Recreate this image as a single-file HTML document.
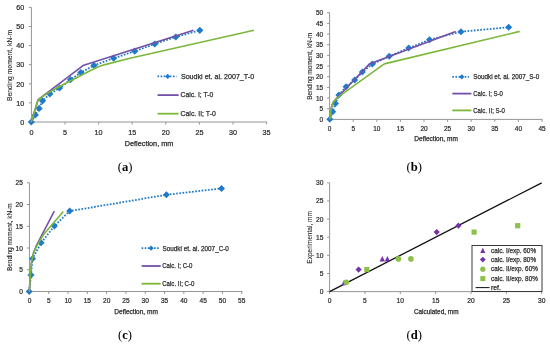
<!DOCTYPE html>
<html><head><meta charset="utf-8"><style>
html,body{margin:0;padding:0;background:#fff;}
svg{display:block;filter:blur(0.3px);}
text{stroke:#2a2a2a;stroke-width:0.25px;}
text.pl{stroke:none;}
text.yt{stroke-width:0.1px;}
text.tk{stroke-width:0.22px;fill:#2a2a2a;stroke:#2a2a2a;}
</style></head><body>
<svg width="550" height="346" viewBox="0 0 550 346">
<rect width="550" height="346" fill="#fff"/>
<path d="M31.4 7.4V122.0H266.8" fill="none" stroke="#959595" stroke-width="1"/>
<path d="M31.40 122.0v2.5" stroke="#959595" stroke-width="1"/>
<text x="31.40" y="134.5" font-size="7.6" text-anchor="middle" fill="#2a2a2a" font-family="Liberation Sans" font-weight="normal" textLength="4.0" lengthAdjust="spacingAndGlyphs" class="tk">0</text>
<path d="M65.00 122.0v2.5" stroke="#959595" stroke-width="1"/>
<text x="65.00" y="134.5" font-size="7.6" text-anchor="middle" fill="#2a2a2a" font-family="Liberation Sans" font-weight="normal" textLength="4.0" lengthAdjust="spacingAndGlyphs" class="tk">5</text>
<path d="M98.60 122.0v2.5" stroke="#959595" stroke-width="1"/>
<text x="98.60" y="134.5" font-size="7.6" text-anchor="middle" fill="#2a2a2a" font-family="Liberation Sans" font-weight="normal" textLength="8.0" lengthAdjust="spacingAndGlyphs" class="tk">10</text>
<path d="M132.20 122.0v2.5" stroke="#959595" stroke-width="1"/>
<text x="132.20" y="134.5" font-size="7.6" text-anchor="middle" fill="#2a2a2a" font-family="Liberation Sans" font-weight="normal" textLength="8.0" lengthAdjust="spacingAndGlyphs" class="tk">15</text>
<path d="M165.80 122.0v2.5" stroke="#959595" stroke-width="1"/>
<text x="165.80" y="134.5" font-size="7.6" text-anchor="middle" fill="#2a2a2a" font-family="Liberation Sans" font-weight="normal" textLength="8.0" lengthAdjust="spacingAndGlyphs" class="tk">20</text>
<path d="M199.40 122.0v2.5" stroke="#959595" stroke-width="1"/>
<text x="199.40" y="134.5" font-size="7.6" text-anchor="middle" fill="#2a2a2a" font-family="Liberation Sans" font-weight="normal" textLength="8.0" lengthAdjust="spacingAndGlyphs" class="tk">25</text>
<path d="M233.00 122.0v2.5" stroke="#959595" stroke-width="1"/>
<text x="233.00" y="134.5" font-size="7.6" text-anchor="middle" fill="#2a2a2a" font-family="Liberation Sans" font-weight="normal" textLength="8.0" lengthAdjust="spacingAndGlyphs" class="tk">30</text>
<path d="M266.60 122.0v2.5" stroke="#959595" stroke-width="1"/>
<text x="266.60" y="134.5" font-size="7.6" text-anchor="middle" fill="#2a2a2a" font-family="Liberation Sans" font-weight="normal" textLength="8.0" lengthAdjust="spacingAndGlyphs" class="tk">35</text>
<path d="M28.9 122.00H31.4" stroke="#959595" stroke-width="1"/>
<text x="24.2" y="124.70" font-size="7.6" text-anchor="end" fill="#2a2a2a" font-family="Liberation Sans" font-weight="normal" textLength="4.0" lengthAdjust="spacingAndGlyphs" class="tk">0</text>
<path d="M28.9 102.90H31.4" stroke="#959595" stroke-width="1"/>
<text x="24.2" y="105.60" font-size="7.6" text-anchor="end" fill="#2a2a2a" font-family="Liberation Sans" font-weight="normal" textLength="8.0" lengthAdjust="spacingAndGlyphs" class="tk">10</text>
<path d="M28.9 83.80H31.4" stroke="#959595" stroke-width="1"/>
<text x="24.2" y="86.50" font-size="7.6" text-anchor="end" fill="#2a2a2a" font-family="Liberation Sans" font-weight="normal" textLength="8.0" lengthAdjust="spacingAndGlyphs" class="tk">20</text>
<path d="M28.9 64.70H31.4" stroke="#959595" stroke-width="1"/>
<text x="24.2" y="67.40" font-size="7.6" text-anchor="end" fill="#2a2a2a" font-family="Liberation Sans" font-weight="normal" textLength="8.0" lengthAdjust="spacingAndGlyphs" class="tk">30</text>
<path d="M28.9 45.60H31.4" stroke="#959595" stroke-width="1"/>
<text x="24.2" y="48.30" font-size="7.6" text-anchor="end" fill="#2a2a2a" font-family="Liberation Sans" font-weight="normal" textLength="8.0" lengthAdjust="spacingAndGlyphs" class="tk">40</text>
<path d="M28.9 26.50H31.4" stroke="#959595" stroke-width="1"/>
<text x="24.2" y="29.20" font-size="7.6" text-anchor="end" fill="#2a2a2a" font-family="Liberation Sans" font-weight="normal" textLength="8.0" lengthAdjust="spacingAndGlyphs" class="tk">50</text>
<path d="M28.9 7.40H31.4" stroke="#959595" stroke-width="1"/>
<text x="24.2" y="10.10" font-size="7.6" text-anchor="end" fill="#2a2a2a" font-family="Liberation Sans" font-weight="normal" textLength="8.0" lengthAdjust="spacingAndGlyphs" class="tk">60</text>
<polyline points="31.30,122.00 35.30,115.00 39.10,108.40 42.50,100.80 49.80,93.90 59.50,88.00 70.50,79.70 80.80,72.60 94.00,65.40 113.60,58.20 134.70,51.20 154.80,44.00 175.80,37.00 199.80,30.30" fill="none" stroke="#1f7acb" stroke-width="1.8" stroke-linejoin="round" stroke-linecap="butt" stroke-dasharray="1.7 1.5"/>
<path d="M31.30 118.40L34.90 122.00L31.30 125.60L27.70 122.00Z" fill="#1f7acb"/>
<path d="M35.30 111.40L38.90 115.00L35.30 118.60L31.70 115.00Z" fill="#1f7acb"/>
<path d="M39.10 104.80L42.70 108.40L39.10 112.00L35.50 108.40Z" fill="#1f7acb"/>
<path d="M42.50 97.20L46.10 100.80L42.50 104.40L38.90 100.80Z" fill="#1f7acb"/>
<path d="M49.80 90.30L53.40 93.90L49.80 97.50L46.20 93.90Z" fill="#1f7acb"/>
<path d="M59.50 84.40L63.10 88.00L59.50 91.60L55.90 88.00Z" fill="#1f7acb"/>
<path d="M70.50 76.10L74.10 79.70L70.50 83.30L66.90 79.70Z" fill="#1f7acb"/>
<path d="M80.80 69.00L84.40 72.60L80.80 76.20L77.20 72.60Z" fill="#1f7acb"/>
<path d="M94.00 61.80L97.60 65.40L94.00 69.00L90.40 65.40Z" fill="#1f7acb"/>
<path d="M113.60 54.60L117.20 58.20L113.60 61.80L110.00 58.20Z" fill="#1f7acb"/>
<path d="M134.70 47.60L138.30 51.20L134.70 54.80L131.10 51.20Z" fill="#1f7acb"/>
<path d="M154.80 40.40L158.40 44.00L154.80 47.60L151.20 44.00Z" fill="#1f7acb"/>
<path d="M175.80 33.40L179.40 37.00L175.80 40.60L172.20 37.00Z" fill="#1f7acb"/>
<path d="M199.80 26.70L203.40 30.30L199.80 33.90L196.20 30.30Z" fill="#1f7acb"/>
<polyline points="31.30,122.00 38.20,99.60 83.00,65.60 193.50,30.20" fill="none" stroke="#7450a8" stroke-width="1.6" stroke-linejoin="round" stroke-linecap="butt" />
<polyline points="31.30,122.00 37.80,100.40 47.50,93.20 60.00,86.30 82.40,74.70 91.00,70.30 99.00,66.50 105.00,64.60 130.00,58.30 254.00,30.20" fill="none" stroke="#7db73a" stroke-width="1.6" stroke-linejoin="round" stroke-linecap="butt" />
<path d="M157.5 76.4H176.5" stroke="#1f7acb" stroke-width="1.8" stroke-dasharray="1.6 1.5"/>
<path d="M167.70 73.80L170.30 76.40L167.70 79.00L165.10 76.40Z" fill="#1f7acb"/>
<path d="M157.6 95.1H178.6" stroke="#7450a8" stroke-width="1.8"/>
<path d="M157.6 113.7H178.6" stroke="#7db73a" stroke-width="1.8"/>
<text x="180.9" y="78.8" font-size="8.0" text-anchor="start" fill="#2a2a2a" font-family="Liberation Sans" font-weight="normal" textLength="73.2" lengthAdjust="spacingAndGlyphs" >Soudki et. al. 2007_T-0</text>
<text x="180.5" y="96.9" font-size="8.0" text-anchor="start" fill="#2a2a2a" font-family="Liberation Sans" font-weight="normal" textLength="32.8" lengthAdjust="spacingAndGlyphs" >Calc. I; T-0</text>
<text x="180.5" y="115.7" font-size="8.0" text-anchor="start" fill="#2a2a2a" font-family="Liberation Sans" font-weight="normal" textLength="35.3" lengthAdjust="spacingAndGlyphs" >Calc. II; T-0</text>
<text x="124.7" y="145.9" font-size="7.2" text-anchor="start" fill="#2a2a2a" font-family="Liberation Sans" font-weight="normal" textLength="48.7" lengthAdjust="spacingAndGlyphs" >Deflection, mm</text>
<text class="yt" transform="translate(12.2 101.1) rotate(-90)" font-size="8.0" fill="#2a2a2a" font-family="Liberation Sans" textLength="71.3" lengthAdjust="spacingAndGlyphs">Bending moment, kN-m</text>
<path d="M329.6 12.7V119.4H542.4" fill="none" stroke="#959595" stroke-width="1"/>
<path d="M329.60 119.4v2.5" stroke="#959595" stroke-width="1"/>
<text x="329.60" y="131.1" font-size="7.0" text-anchor="middle" fill="#2a2a2a" font-family="Liberation Sans" font-weight="normal" textLength="3.6" lengthAdjust="spacingAndGlyphs" class="tk">0</text>
<path d="M353.20 119.4v2.5" stroke="#959595" stroke-width="1"/>
<text x="353.20" y="131.1" font-size="7.0" text-anchor="middle" fill="#2a2a2a" font-family="Liberation Sans" font-weight="normal" textLength="3.6" lengthAdjust="spacingAndGlyphs" class="tk">5</text>
<path d="M376.80 119.4v2.5" stroke="#959595" stroke-width="1"/>
<text x="376.80" y="131.1" font-size="7.0" text-anchor="middle" fill="#2a2a2a" font-family="Liberation Sans" font-weight="normal" textLength="7.2" lengthAdjust="spacingAndGlyphs" class="tk">10</text>
<path d="M400.40 119.4v2.5" stroke="#959595" stroke-width="1"/>
<text x="400.40" y="131.1" font-size="7.0" text-anchor="middle" fill="#2a2a2a" font-family="Liberation Sans" font-weight="normal" textLength="7.2" lengthAdjust="spacingAndGlyphs" class="tk">15</text>
<path d="M424.00 119.4v2.5" stroke="#959595" stroke-width="1"/>
<text x="424.00" y="131.1" font-size="7.0" text-anchor="middle" fill="#2a2a2a" font-family="Liberation Sans" font-weight="normal" textLength="7.2" lengthAdjust="spacingAndGlyphs" class="tk">20</text>
<path d="M447.60 119.4v2.5" stroke="#959595" stroke-width="1"/>
<text x="447.60" y="131.1" font-size="7.0" text-anchor="middle" fill="#2a2a2a" font-family="Liberation Sans" font-weight="normal" textLength="7.2" lengthAdjust="spacingAndGlyphs" class="tk">25</text>
<path d="M471.20 119.4v2.5" stroke="#959595" stroke-width="1"/>
<text x="471.20" y="131.1" font-size="7.0" text-anchor="middle" fill="#2a2a2a" font-family="Liberation Sans" font-weight="normal" textLength="7.2" lengthAdjust="spacingAndGlyphs" class="tk">30</text>
<path d="M494.80 119.4v2.5" stroke="#959595" stroke-width="1"/>
<text x="494.80" y="131.1" font-size="7.0" text-anchor="middle" fill="#2a2a2a" font-family="Liberation Sans" font-weight="normal" textLength="7.2" lengthAdjust="spacingAndGlyphs" class="tk">35</text>
<path d="M518.40 119.4v2.5" stroke="#959595" stroke-width="1"/>
<text x="518.40" y="131.1" font-size="7.0" text-anchor="middle" fill="#2a2a2a" font-family="Liberation Sans" font-weight="normal" textLength="7.2" lengthAdjust="spacingAndGlyphs" class="tk">40</text>
<path d="M542.00 119.4v2.5" stroke="#959595" stroke-width="1"/>
<text x="542.00" y="131.1" font-size="7.0" text-anchor="middle" fill="#2a2a2a" font-family="Liberation Sans" font-weight="normal" textLength="7.2" lengthAdjust="spacingAndGlyphs" class="tk">45</text>
<path d="M327.1 119.40H329.6" stroke="#959595" stroke-width="1"/>
<text x="323.2" y="121.90" font-size="7.0" text-anchor="end" fill="#2a2a2a" font-family="Liberation Sans" font-weight="normal" textLength="3.6" lengthAdjust="spacingAndGlyphs" class="tk">0</text>
<path d="M327.1 108.73H329.6" stroke="#959595" stroke-width="1"/>
<text x="323.2" y="111.23" font-size="7.0" text-anchor="end" fill="#2a2a2a" font-family="Liberation Sans" font-weight="normal" textLength="3.6" lengthAdjust="spacingAndGlyphs" class="tk">5</text>
<path d="M327.1 98.06H329.6" stroke="#959595" stroke-width="1"/>
<text x="323.2" y="100.56" font-size="7.0" text-anchor="end" fill="#2a2a2a" font-family="Liberation Sans" font-weight="normal" textLength="7.2" lengthAdjust="spacingAndGlyphs" class="tk">10</text>
<path d="M327.1 87.39H329.6" stroke="#959595" stroke-width="1"/>
<text x="323.2" y="89.89" font-size="7.0" text-anchor="end" fill="#2a2a2a" font-family="Liberation Sans" font-weight="normal" textLength="7.2" lengthAdjust="spacingAndGlyphs" class="tk">15</text>
<path d="M327.1 76.72H329.6" stroke="#959595" stroke-width="1"/>
<text x="323.2" y="79.22" font-size="7.0" text-anchor="end" fill="#2a2a2a" font-family="Liberation Sans" font-weight="normal" textLength="7.2" lengthAdjust="spacingAndGlyphs" class="tk">20</text>
<path d="M327.1 66.05H329.6" stroke="#959595" stroke-width="1"/>
<text x="323.2" y="68.55" font-size="7.0" text-anchor="end" fill="#2a2a2a" font-family="Liberation Sans" font-weight="normal" textLength="7.2" lengthAdjust="spacingAndGlyphs" class="tk">25</text>
<path d="M327.1 55.38H329.6" stroke="#959595" stroke-width="1"/>
<text x="323.2" y="57.88" font-size="7.0" text-anchor="end" fill="#2a2a2a" font-family="Liberation Sans" font-weight="normal" textLength="7.2" lengthAdjust="spacingAndGlyphs" class="tk">30</text>
<path d="M327.1 44.71H329.6" stroke="#959595" stroke-width="1"/>
<text x="323.2" y="47.21" font-size="7.0" text-anchor="end" fill="#2a2a2a" font-family="Liberation Sans" font-weight="normal" textLength="7.2" lengthAdjust="spacingAndGlyphs" class="tk">35</text>
<path d="M327.1 34.04H329.6" stroke="#959595" stroke-width="1"/>
<text x="323.2" y="36.54" font-size="7.0" text-anchor="end" fill="#2a2a2a" font-family="Liberation Sans" font-weight="normal" textLength="7.2" lengthAdjust="spacingAndGlyphs" class="tk">40</text>
<path d="M327.1 23.37H329.6" stroke="#959595" stroke-width="1"/>
<text x="323.2" y="25.87" font-size="7.0" text-anchor="end" fill="#2a2a2a" font-family="Liberation Sans" font-weight="normal" textLength="7.2" lengthAdjust="spacingAndGlyphs" class="tk">45</text>
<path d="M327.1 12.70H329.6" stroke="#959595" stroke-width="1"/>
<text x="323.2" y="15.20" font-size="7.0" text-anchor="end" fill="#2a2a2a" font-family="Liberation Sans" font-weight="normal" textLength="7.2" lengthAdjust="spacingAndGlyphs" class="tk">50</text>
<polyline points="329.80,119.30 332.70,111.70 335.50,103.40 338.90,95.10 346.00,86.80 354.70,80.10 362.30,72.10 372.40,64.10 389.20,56.20 408.70,48.10 429.50,39.70 461.00,31.70 508.70,27.30" fill="none" stroke="#1f7acb" stroke-width="1.8" stroke-linejoin="round" stroke-linecap="butt" stroke-dasharray="1.7 1.5"/>
<path d="M329.80 115.80L333.30 119.30L329.80 122.80L326.30 119.30Z" fill="#1f7acb"/>
<path d="M332.70 108.20L336.20 111.70L332.70 115.20L329.20 111.70Z" fill="#1f7acb"/>
<path d="M335.50 99.90L339.00 103.40L335.50 106.90L332.00 103.40Z" fill="#1f7acb"/>
<path d="M338.90 91.60L342.40 95.10L338.90 98.60L335.40 95.10Z" fill="#1f7acb"/>
<path d="M346.00 83.30L349.50 86.80L346.00 90.30L342.50 86.80Z" fill="#1f7acb"/>
<path d="M354.70 76.60L358.20 80.10L354.70 83.60L351.20 80.10Z" fill="#1f7acb"/>
<path d="M362.30 68.60L365.80 72.10L362.30 75.60L358.80 72.10Z" fill="#1f7acb"/>
<path d="M372.40 60.60L375.90 64.10L372.40 67.60L368.90 64.10Z" fill="#1f7acb"/>
<path d="M389.20 52.70L392.70 56.20L389.20 59.70L385.70 56.20Z" fill="#1f7acb"/>
<path d="M408.70 44.60L412.20 48.10L408.70 51.60L405.20 48.10Z" fill="#1f7acb"/>
<path d="M429.50 36.20L433.00 39.70L429.50 43.20L426.00 39.70Z" fill="#1f7acb"/>
<path d="M461.00 28.20L464.50 31.70L461.00 35.20L457.50 31.70Z" fill="#1f7acb"/>
<path d="M508.70 23.80L512.20 27.30L508.70 30.80L505.20 27.30Z" fill="#1f7acb"/>
<polyline points="329.80,119.40 331.00,110.50 331.90,105.40 333.10,102.60 334.80,100.30 369.30,64.10 455.70,31.40" fill="none" stroke="#7450a8" stroke-width="1.6" stroke-linejoin="round" stroke-linecap="butt" />
<polyline points="329.80,119.40 331.00,110.50 331.90,105.40 333.10,102.60 335.00,100.30 337.50,98.00 340.50,95.30 384.30,63.90 519.70,31.40" fill="none" stroke="#7db73a" stroke-width="1.6" stroke-linejoin="round" stroke-linecap="butt" />
<path d="M452.3 76.8H469" stroke="#1f7acb" stroke-width="1.8" stroke-dasharray="1.6 1.5"/>
<path d="M461.80 74.20L464.40 76.80L461.80 79.40L459.20 76.80Z" fill="#1f7acb"/>
<path d="M452.3 93.6H471.4" stroke="#7450a8" stroke-width="1.8"/>
<path d="M452.3 110.4H471.4" stroke="#7db73a" stroke-width="1.8"/>
<text x="473.2" y="79.3" font-size="7.4" text-anchor="start" fill="#2a2a2a" font-family="Liberation Sans" font-weight="normal" textLength="66" lengthAdjust="spacingAndGlyphs" >Soudki et. al. 2007_S-0</text>
<text x="473.2" y="96.1" font-size="7.4" text-anchor="start" fill="#2a2a2a" font-family="Liberation Sans" font-weight="normal" textLength="29.6" lengthAdjust="spacingAndGlyphs" >Calc. I; S-0</text>
<text x="473.2" y="112.9" font-size="7.4" text-anchor="start" fill="#2a2a2a" font-family="Liberation Sans" font-weight="normal" textLength="31.8" lengthAdjust="spacingAndGlyphs" >Calc. II; S-0</text>
<text x="414.3" y="141.2" font-size="6.6" text-anchor="start" fill="#2a2a2a" font-family="Liberation Sans" font-weight="normal" textLength="43.6" lengthAdjust="spacingAndGlyphs" >Deflection, mm</text>
<text class="yt" transform="translate(312.0 99.8) rotate(-90)" font-size="7.0" fill="#2a2a2a" font-family="Liberation Sans" textLength="66.9" lengthAdjust="spacingAndGlyphs">Bending moment, kN-m</text>
<path d="M29.45 182.8V291.5H242.4" fill="none" stroke="#959595" stroke-width="1"/>
<path d="M29.45 291.5v2.5" stroke="#959595" stroke-width="1"/>
<text x="29.45" y="303.3" font-size="7.0" text-anchor="middle" fill="#2a2a2a" font-family="Liberation Sans" font-weight="normal" textLength="3.65" lengthAdjust="spacingAndGlyphs" class="tk">0</text>
<path d="M48.75 291.5v2.5" stroke="#959595" stroke-width="1"/>
<text x="48.75" y="303.3" font-size="7.0" text-anchor="middle" fill="#2a2a2a" font-family="Liberation Sans" font-weight="normal" textLength="3.65" lengthAdjust="spacingAndGlyphs" class="tk">5</text>
<path d="M68.05 291.5v2.5" stroke="#959595" stroke-width="1"/>
<text x="68.05" y="303.3" font-size="7.0" text-anchor="middle" fill="#2a2a2a" font-family="Liberation Sans" font-weight="normal" textLength="7.3" lengthAdjust="spacingAndGlyphs" class="tk">10</text>
<path d="M87.35 291.5v2.5" stroke="#959595" stroke-width="1"/>
<text x="87.35" y="303.3" font-size="7.0" text-anchor="middle" fill="#2a2a2a" font-family="Liberation Sans" font-weight="normal" textLength="7.3" lengthAdjust="spacingAndGlyphs" class="tk">15</text>
<path d="M106.65 291.5v2.5" stroke="#959595" stroke-width="1"/>
<text x="106.65" y="303.3" font-size="7.0" text-anchor="middle" fill="#2a2a2a" font-family="Liberation Sans" font-weight="normal" textLength="7.3" lengthAdjust="spacingAndGlyphs" class="tk">20</text>
<path d="M125.95 291.5v2.5" stroke="#959595" stroke-width="1"/>
<text x="125.95" y="303.3" font-size="7.0" text-anchor="middle" fill="#2a2a2a" font-family="Liberation Sans" font-weight="normal" textLength="7.3" lengthAdjust="spacingAndGlyphs" class="tk">25</text>
<path d="M145.25 291.5v2.5" stroke="#959595" stroke-width="1"/>
<text x="145.25" y="303.3" font-size="7.0" text-anchor="middle" fill="#2a2a2a" font-family="Liberation Sans" font-weight="normal" textLength="7.3" lengthAdjust="spacingAndGlyphs" class="tk">30</text>
<path d="M164.55 291.5v2.5" stroke="#959595" stroke-width="1"/>
<text x="164.55" y="303.3" font-size="7.0" text-anchor="middle" fill="#2a2a2a" font-family="Liberation Sans" font-weight="normal" textLength="7.3" lengthAdjust="spacingAndGlyphs" class="tk">35</text>
<path d="M183.85 291.5v2.5" stroke="#959595" stroke-width="1"/>
<text x="183.85" y="303.3" font-size="7.0" text-anchor="middle" fill="#2a2a2a" font-family="Liberation Sans" font-weight="normal" textLength="7.3" lengthAdjust="spacingAndGlyphs" class="tk">40</text>
<path d="M203.15 291.5v2.5" stroke="#959595" stroke-width="1"/>
<text x="203.15" y="303.3" font-size="7.0" text-anchor="middle" fill="#2a2a2a" font-family="Liberation Sans" font-weight="normal" textLength="7.3" lengthAdjust="spacingAndGlyphs" class="tk">45</text>
<path d="M222.45 291.5v2.5" stroke="#959595" stroke-width="1"/>
<text x="222.45" y="303.3" font-size="7.0" text-anchor="middle" fill="#2a2a2a" font-family="Liberation Sans" font-weight="normal" textLength="7.3" lengthAdjust="spacingAndGlyphs" class="tk">50</text>
<path d="M241.75 291.5v2.5" stroke="#959595" stroke-width="1"/>
<text x="241.75" y="303.3" font-size="7.0" text-anchor="middle" fill="#2a2a2a" font-family="Liberation Sans" font-weight="normal" textLength="7.3" lengthAdjust="spacingAndGlyphs" class="tk">55</text>
<path d="M26.95 291.50H29.45" stroke="#959595" stroke-width="1"/>
<text x="22.9" y="294.00" font-size="7.0" text-anchor="end" fill="#2a2a2a" font-family="Liberation Sans" font-weight="normal" textLength="3.65" lengthAdjust="spacingAndGlyphs" class="tk">0</text>
<path d="M26.95 269.76H29.45" stroke="#959595" stroke-width="1"/>
<text x="22.9" y="272.26" font-size="7.0" text-anchor="end" fill="#2a2a2a" font-family="Liberation Sans" font-weight="normal" textLength="3.65" lengthAdjust="spacingAndGlyphs" class="tk">5</text>
<path d="M26.95 248.02H29.45" stroke="#959595" stroke-width="1"/>
<text x="22.9" y="250.52" font-size="7.0" text-anchor="end" fill="#2a2a2a" font-family="Liberation Sans" font-weight="normal" textLength="7.3" lengthAdjust="spacingAndGlyphs" class="tk">10</text>
<path d="M26.95 226.28H29.45" stroke="#959595" stroke-width="1"/>
<text x="22.9" y="228.78" font-size="7.0" text-anchor="end" fill="#2a2a2a" font-family="Liberation Sans" font-weight="normal" textLength="7.3" lengthAdjust="spacingAndGlyphs" class="tk">15</text>
<path d="M26.95 204.54H29.45" stroke="#959595" stroke-width="1"/>
<text x="22.9" y="207.04" font-size="7.0" text-anchor="end" fill="#2a2a2a" font-family="Liberation Sans" font-weight="normal" textLength="7.3" lengthAdjust="spacingAndGlyphs" class="tk">20</text>
<path d="M26.95 182.80H29.45" stroke="#959595" stroke-width="1"/>
<text x="22.9" y="185.30" font-size="7.0" text-anchor="end" fill="#2a2a2a" font-family="Liberation Sans" font-weight="normal" textLength="7.3" lengthAdjust="spacingAndGlyphs" class="tk">25</text>
<polyline points="29.20,291.40 31.00,275.00 32.50,258.80 41.10,242.80 54.40,226.00 69.70,211.10 166.40,194.80 221.50,188.40" fill="none" stroke="#1f7acb" stroke-width="1.8" stroke-linejoin="round" stroke-linecap="butt" stroke-dasharray="1.7 1.5"/>
<path d="M29.20 287.90L32.70 291.40L29.20 294.90L25.70 291.40Z" fill="#1f7acb"/>
<path d="M31.00 271.50L34.50 275.00L31.00 278.50L27.50 275.00Z" fill="#1f7acb"/>
<path d="M32.50 255.30L36.00 258.80L32.50 262.30L29.00 258.80Z" fill="#1f7acb"/>
<path d="M41.10 239.30L44.60 242.80L41.10 246.30L37.60 242.80Z" fill="#1f7acb"/>
<path d="M54.40 222.50L57.90 226.00L54.40 229.50L50.90 226.00Z" fill="#1f7acb"/>
<path d="M69.70 207.60L73.20 211.10L69.70 214.60L66.20 211.10Z" fill="#1f7acb"/>
<path d="M166.40 191.30L169.90 194.80L166.40 198.30L162.90 194.80Z" fill="#1f7acb"/>
<path d="M221.50 184.90L225.00 188.40L221.50 191.90L218.00 188.40Z" fill="#1f7acb"/>
<polyline points="29.40,291.40 30.30,275.00 31.60,261.00 33.60,252.60 36.40,245.50 54.30,211.10" fill="none" stroke="#7450a8" stroke-width="1.6" stroke-linejoin="round" stroke-linecap="butt" />
<polyline points="29.40,291.40 30.30,274.90 31.70,261.00 33.80,252.30 36.00,247.50 38.10,243.70 43.40,234.80 63.30,211.40" fill="none" stroke="#7db73a" stroke-width="1.6" stroke-linejoin="round" stroke-linecap="butt" />
<path d="M141.6 248.2H158.9" stroke="#1f7acb" stroke-width="1.8" stroke-dasharray="1.6 1.5"/>
<path d="M151.10 245.60L153.70 248.20L151.10 250.80L148.50 248.20Z" fill="#1f7acb"/>
<path d="M141.6 266.0H160.7" stroke="#7450a8" stroke-width="1.8"/>
<path d="M141.6 283.7H160.7" stroke="#7db73a" stroke-width="1.8"/>
<text x="162.5" y="250.6" font-size="7.1" text-anchor="start" fill="#2a2a2a" font-family="Liberation Sans" font-weight="normal" textLength="66.4" lengthAdjust="spacingAndGlyphs" >Soudki et. al. 2007_C-0</text>
<text x="162.2" y="268.3" font-size="7.1" text-anchor="start" fill="#2a2a2a" font-family="Liberation Sans" font-weight="normal" textLength="30.3" lengthAdjust="spacingAndGlyphs" >Calc. I; C-0</text>
<text x="162.2" y="286.0" font-size="7.1" text-anchor="start" fill="#2a2a2a" font-family="Liberation Sans" font-weight="normal" textLength="32.2" lengthAdjust="spacingAndGlyphs" >Calc. II; C-0</text>
<text x="114.3" y="314.2" font-size="6.6" text-anchor="start" fill="#2a2a2a" font-family="Liberation Sans" font-weight="normal" textLength="43.6" lengthAdjust="spacingAndGlyphs" >Deflection, mm</text>
<text class="yt" transform="translate(12.0 271.1) rotate(-90)" font-size="7.0" fill="#2a2a2a" font-family="Liberation Sans" textLength="67.8" lengthAdjust="spacingAndGlyphs">Bending moment, kN-m</text>
<path d="M329.6 182.8V291.6H542.0" fill="none" stroke="#959595" stroke-width="1"/>
<path d="M329.60 291.6v2.5" stroke="#959595" stroke-width="1"/>
<text x="329.60" y="303.3" font-size="7.0" text-anchor="middle" fill="#2a2a2a" font-family="Liberation Sans" font-weight="normal" textLength="3.7" lengthAdjust="spacingAndGlyphs" class="tk">0</text>
<path d="M364.95 291.6v2.5" stroke="#959595" stroke-width="1"/>
<text x="364.95" y="303.3" font-size="7.0" text-anchor="middle" fill="#2a2a2a" font-family="Liberation Sans" font-weight="normal" textLength="3.7" lengthAdjust="spacingAndGlyphs" class="tk">5</text>
<path d="M400.30 291.6v2.5" stroke="#959595" stroke-width="1"/>
<text x="400.30" y="303.3" font-size="7.0" text-anchor="middle" fill="#2a2a2a" font-family="Liberation Sans" font-weight="normal" textLength="7.4" lengthAdjust="spacingAndGlyphs" class="tk">10</text>
<path d="M435.65 291.6v2.5" stroke="#959595" stroke-width="1"/>
<text x="435.65" y="303.3" font-size="7.0" text-anchor="middle" fill="#2a2a2a" font-family="Liberation Sans" font-weight="normal" textLength="7.4" lengthAdjust="spacingAndGlyphs" class="tk">15</text>
<path d="M471.00 291.6v2.5" stroke="#959595" stroke-width="1"/>
<text x="471.00" y="303.3" font-size="7.0" text-anchor="middle" fill="#2a2a2a" font-family="Liberation Sans" font-weight="normal" textLength="7.4" lengthAdjust="spacingAndGlyphs" class="tk">20</text>
<path d="M506.35 291.6v2.5" stroke="#959595" stroke-width="1"/>
<text x="506.35" y="303.3" font-size="7.0" text-anchor="middle" fill="#2a2a2a" font-family="Liberation Sans" font-weight="normal" textLength="7.4" lengthAdjust="spacingAndGlyphs" class="tk">25</text>
<path d="M541.70 291.6v2.5" stroke="#959595" stroke-width="1"/>
<text x="541.70" y="303.3" font-size="7.0" text-anchor="middle" fill="#2a2a2a" font-family="Liberation Sans" font-weight="normal" textLength="7.4" lengthAdjust="spacingAndGlyphs" class="tk">30</text>
<path d="M327.1 291.60H329.6" stroke="#959595" stroke-width="1"/>
<text x="323.4" y="294.10" font-size="7.0" text-anchor="end" fill="#2a2a2a" font-family="Liberation Sans" font-weight="normal" textLength="3.7" lengthAdjust="spacingAndGlyphs" class="tk">0</text>
<path d="M327.1 273.47H329.6" stroke="#959595" stroke-width="1"/>
<text x="323.4" y="275.97" font-size="7.0" text-anchor="end" fill="#2a2a2a" font-family="Liberation Sans" font-weight="normal" textLength="3.7" lengthAdjust="spacingAndGlyphs" class="tk">5</text>
<path d="M327.1 255.34H329.6" stroke="#959595" stroke-width="1"/>
<text x="323.4" y="257.84" font-size="7.0" text-anchor="end" fill="#2a2a2a" font-family="Liberation Sans" font-weight="normal" textLength="7.4" lengthAdjust="spacingAndGlyphs" class="tk">10</text>
<path d="M327.1 237.21H329.6" stroke="#959595" stroke-width="1"/>
<text x="323.4" y="239.71" font-size="7.0" text-anchor="end" fill="#2a2a2a" font-family="Liberation Sans" font-weight="normal" textLength="7.4" lengthAdjust="spacingAndGlyphs" class="tk">15</text>
<path d="M327.1 219.08H329.6" stroke="#959595" stroke-width="1"/>
<text x="323.4" y="221.58" font-size="7.0" text-anchor="end" fill="#2a2a2a" font-family="Liberation Sans" font-weight="normal" textLength="7.4" lengthAdjust="spacingAndGlyphs" class="tk">20</text>
<path d="M327.1 200.95H329.6" stroke="#959595" stroke-width="1"/>
<text x="323.4" y="203.45" font-size="7.0" text-anchor="end" fill="#2a2a2a" font-family="Liberation Sans" font-weight="normal" textLength="7.4" lengthAdjust="spacingAndGlyphs" class="tk">25</text>
<path d="M327.1 182.82H329.6" stroke="#959595" stroke-width="1"/>
<text x="323.4" y="185.32" font-size="7.0" text-anchor="end" fill="#2a2a2a" font-family="Liberation Sans" font-weight="normal" textLength="7.4" lengthAdjust="spacingAndGlyphs" class="tk">30</text>
<path d="M329.6 291.6L541.70 182.82" stroke="#111" stroke-width="1.3"/>
<path d="M344.10 279.83L346.80 285.26L341.40 285.26Z" fill="#7530aa"/>
<path d="M382.30 256.03L385.00 261.46L379.60 261.46Z" fill="#7530aa"/>
<path d="M387.40 256.03L390.10 261.46L384.70 261.46Z" fill="#7530aa"/>
<path d="M358.60 266.50L361.70 269.60L358.60 272.70L355.50 269.60Z" fill="#7530aa"/>
<path d="M436.70 229.00L439.80 232.10L436.70 235.20L433.60 232.10Z" fill="#7530aa"/>
<path d="M458.40 222.60L461.50 225.70L458.40 228.80L455.30 225.70Z" fill="#7530aa"/>
<circle cx="346.3" cy="282.3" r="2.8" fill="#8cc04a"/>
<circle cx="398.4" cy="258.9" r="2.8" fill="#8cc04a"/>
<circle cx="410.9" cy="258.9" r="2.8" fill="#8cc04a"/>
<rect x="364.20" y="267.00" width="5.2" height="5.2" fill="#8cc04a"/>
<rect x="471.50" y="229.50" width="5.2" height="5.2" fill="#8cc04a"/>
<rect x="515.10" y="223.10" width="5.2" height="5.2" fill="#8cc04a"/>
<rect x="472" y="245.5" width="70" height="46" fill="#fff" stroke="#3a3a3a" stroke-width="1"/>
<path d="M482.80 247.73L485.40 252.97L480.20 252.97Z" fill="#7530aa"/>
<path d="M482.80 256.70L485.70 259.60L482.80 262.50L479.90 259.60Z" fill="#7530aa"/>
<circle cx="482.8" cy="269.2" r="2.6" fill="#8cc04a"/>
<rect x="480.3" y="276.1" width="5" height="5" fill="#8cc04a"/>
<path d="M475.6 287.6H489.5" stroke="#111" stroke-width="1"/>
<text x="491" y="252.6" font-size="7.1" text-anchor="start" fill="#2a2a2a" font-family="Liberation Sans" font-weight="normal" textLength="45.1" lengthAdjust="spacingAndGlyphs" >calc. I/exp. 60%</text>
<text x="491" y="261.9" font-size="7.1" text-anchor="start" fill="#2a2a2a" font-family="Liberation Sans" font-weight="normal" textLength="45.1" lengthAdjust="spacingAndGlyphs" >calc. I/exp. 80%</text>
<text x="491" y="271.4" font-size="7.1" text-anchor="start" fill="#2a2a2a" font-family="Liberation Sans" font-weight="normal" textLength="46.9" lengthAdjust="spacingAndGlyphs" >calc. II/exp. 60%</text>
<text x="491" y="280.7" font-size="7.1" text-anchor="start" fill="#2a2a2a" font-family="Liberation Sans" font-weight="normal" textLength="46.9" lengthAdjust="spacingAndGlyphs" >calc. II/exp. 80%</text>
<text x="491" y="289.7" font-size="7.1" text-anchor="start" fill="#2a2a2a" font-family="Liberation Sans" font-weight="normal" textLength="9.8" lengthAdjust="spacingAndGlyphs" >ref.</text>
<text x="413.9" y="314.2" font-size="6.6" text-anchor="start" fill="#2a2a2a" font-family="Liberation Sans" font-weight="normal" textLength="44.6" lengthAdjust="spacingAndGlyphs" >Calculated, mm</text>
<text class="yt" transform="translate(312.1 263.7) rotate(-90)" font-size="7.0" fill="#2a2a2a" font-family="Liberation Sans" textLength="52.6" lengthAdjust="spacingAndGlyphs">Experimental, mm</text>
<text class="pl" x="117.7" y="170.8" font-size="12.6" fill="#000" font-family="Liberation Serif">(<tspan font-weight="bold">a</tspan>)</text>
<text class="pl" x="406.5" y="170.8" font-size="12.6" fill="#000" font-family="Liberation Serif">(<tspan font-weight="bold">b</tspan>)</text>
<text class="pl" x="118.0" y="338.9" font-size="12.6" fill="#000" font-family="Liberation Serif">(<tspan font-weight="bold">c</tspan>)</text>
<text class="pl" x="406.5" y="338.9" font-size="12.6" fill="#000" font-family="Liberation Serif">(<tspan font-weight="bold">d</tspan>)</text>
</svg>
</body></html>
